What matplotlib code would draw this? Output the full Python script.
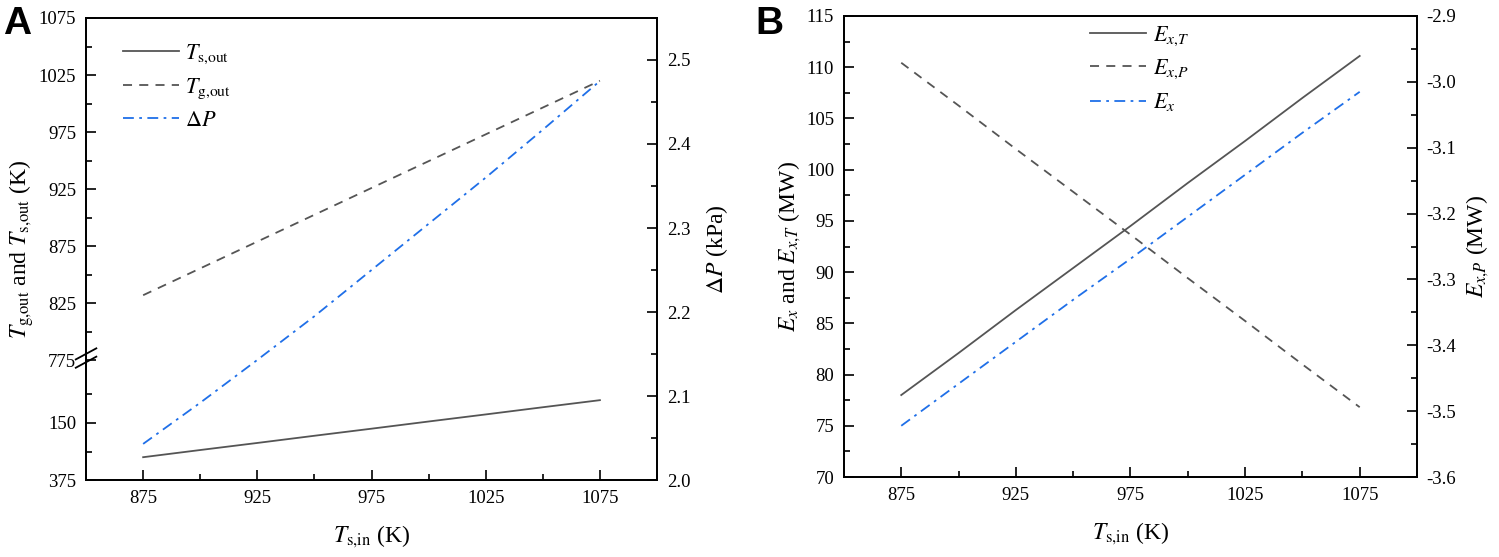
import numpy as np
import matplotlib
matplotlib.use("Agg")
import matplotlib.pyplot as plt
from matplotlib.ticker import FixedLocator, MultipleLocator, FormatStrFormatter

plt.rcParams['font.family'] = ['Liberation Serif', 'DejaVu Serif']
plt.rcParams['mathtext.fontset'] = 'stix'

# ---- data ----
ts_in = [875, 900, 925, 950, 975, 1000, 1025, 1050, 1075]

# panel A
ts_out = [395, 401.3, 407.5, 413.8, 420, 426.3, 432.5, 438.8, 445]
tg_out = [832, 855.5, 879, 902.5, 926, 949.5, 973, 996.5, 1020]
dp = [2.043, 2.092, 2.143, 2.195, 2.250, 2.305, 2.360, 2.417, 2.475]

# panel B
ex_t = [78.0, 82.1, 86.3, 90.4, 94.5, 98.7, 102.8, 107.0, 111.1]
ex_p = [-2.971, -3.036, -3.102, -3.167, -3.232, -3.298, -3.363, -3.429, -3.494]
ex = [75.0, 79.1, 83.2, 87.3, 91.3, 95.4, 99.5, 103.6, 107.6]

xticks = [875, 925, 975, 1025, 1075]
a_yticks = [375, 425, 775, 825, 875, 925, 975, 1025, 1075]
a_ylabels = ['375', '150', '775', '825', '875', '925', '975', '1025', '1075']
a_yminor = [400, 450, 800, 850, 900, 950, 1000, 1050]

GRAY = '#555555'
BLUE = '#1f6fe8'
TICK_FS = 13.5
LABEL_FS = 17
LEG_FS = 16


def brk_fwd(y):
    y = np.asarray(y, dtype=float)
    return np.where(y >= 775, y - 295, np.minimum(y, 480))


def brk_inv(v):
    v = np.asarray(v, dtype=float)
    return np.where(v > 480, v + 295, v)


def style_axis(ax):
    ax.tick_params(which='both', direction='in', labelsize=TICK_FS, pad=7)
    ax.tick_params(which='major', length=7, width=1.2)
    ax.tick_params(which='minor', length=4, width=1.2)
    for s in ax.spines.values():
        s.set_linewidth(1.3)


fig = plt.figure(figsize=(14.99, 5.57), dpi=100)

# ---------------- panel A ----------------
axA = fig.add_axes([0.0574, 0.1382, 0.3809, 0.8295])
axA.set_yscale('function', functions=(brk_fwd, brk_inv))
l1, = axA.plot(ts_in, ts_out, color=GRAY, lw=1.3, ls='-')
l2, = axA.plot(ts_in, tg_out, color=GRAY, lw=1.3, ls=(0, (5, 4)))
axA.set_xlim(850, 1100)
axA.set_ylim(375, 1075)
axA.yaxis.set_major_locator(FixedLocator(a_yticks))
axA.set_yticklabels(a_ylabels)
axA.yaxis.set_minor_locator(FixedLocator(a_yminor))
axA.xaxis.set_major_locator(FixedLocator(xticks))
axA.xaxis.set_minor_locator(MultipleLocator(25))
axA.set_xlabel(r'$T_{\mathrm{s}{,}\mathrm{in}}$ (K)', fontsize=LABEL_FS, labelpad=12)
axA.set_ylabel(r'$T_{\mathrm{g}{,}\mathrm{out}}$ and $T_{\mathrm{s}{,}\mathrm{out}}$ (K)',
               fontsize=LABEL_FS, labelpad=2)
style_axis(axA)

axA2 = axA.twinx()
l3, = axA2.plot(ts_in, dp, color=BLUE, lw=1.3, ls=(0, (6, 3, 1.5, 3)))
axA2.set_ylim(2.0, 2.55)
axA2.yaxis.set_major_locator(MultipleLocator(0.1))
axA2.yaxis.set_minor_locator(MultipleLocator(0.05))
axA2.yaxis.set_major_formatter(FormatStrFormatter('%.1f'))
axA2.set_ylabel(r'$\Delta P$ (kPa)', fontsize=LABEL_FS, labelpad=10)
style_axis(axA2)

# break marks on the left spine
for dy in (0.0, 0.018):
    axA.plot([-0.018, 0.018], [0.255 + dy - 0.012, 0.255 + dy + 0.012],
             transform=axA.transAxes, color='black', lw=1.3, clip_on=False)

axA.legend([l1, l2, l3],
           [r'$T_{\mathrm{s}{,}\mathrm{out}}$', r'$T_{\mathrm{g}{,}\mathrm{out}}$', r'$\Delta P$'],
           loc='upper left', bbox_to_anchor=(0.03, 0.99), frameon=False,
           fontsize=LEG_FS, handlelength=2.5, handletextpad=0.3, labelspacing=0.45)

# ---------------- panel B ----------------
axB = fig.add_axes([0.563, 0.1436, 0.3823, 0.8277])
m1, = axB.plot(ts_in, ex_t, color=GRAY, lw=1.3, ls='-')
m3, = axB.plot(ts_in, ex, color=BLUE, lw=1.3, ls=(0, (6, 3, 1.5, 3)))
axB.set_xlim(850, 1100)
axB.set_ylim(70, 115)
axB.yaxis.set_major_locator(MultipleLocator(5))
axB.yaxis.set_minor_locator(MultipleLocator(2.5))
axB.xaxis.set_major_locator(FixedLocator(xticks))
axB.xaxis.set_minor_locator(MultipleLocator(25))
axB.set_xlabel(r'$T_{\mathrm{s}{,}\mathrm{in}}$ (K)', fontsize=LABEL_FS, labelpad=12)
axB.set_ylabel(r'$E_x$ and $E_{x{,}T}$ (MW)', fontsize=LABEL_FS, labelpad=2)
style_axis(axB)

axB2 = axB.twinx()
m2, = axB2.plot(ts_in, ex_p, color=GRAY, lw=1.3, ls=(0, (5, 4)))
axB2.set_ylim(-3.6, -2.9)
axB2.yaxis.set_major_locator(MultipleLocator(0.1))
axB2.yaxis.set_minor_locator(MultipleLocator(0.05))
axB2.yaxis.set_major_formatter(FormatStrFormatter('%.1f'))
axB2.set_ylabel(r'$E_{x{,}P}$ (MW)', fontsize=LABEL_FS, labelpad=6)
style_axis(axB2)

axB.legend([m1, m2, m3], [r'$E_{x{,}T}$', r'$E_{x{,}P}$', r'$E_x$'],
           loc='upper left', bbox_to_anchor=(0.395, 1.025), frameon=False,
           fontsize=LEG_FS, handlelength=2.5, handletextpad=0.3, labelspacing=0.45)

fig.text(0.002, 0.99, 'A', fontsize=28, fontweight='bold',
         family='Liberation Sans', va='top', ha='left')
fig.text(0.504, 0.99, 'B', fontsize=28, fontweight='bold',
         family='Liberation Sans', va='top', ha='left')

fig.savefig('out.png', dpi=100)
